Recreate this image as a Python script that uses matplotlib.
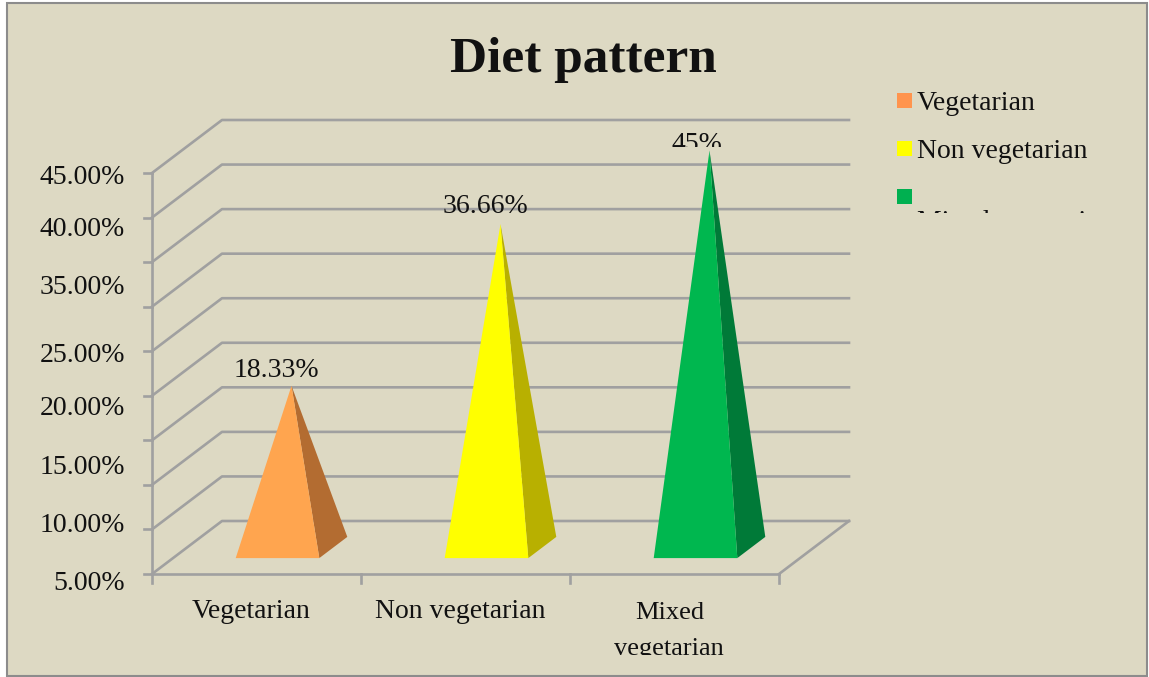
import matplotlib
matplotlib.use('Agg')
import matplotlib.pyplot as plt
from matplotlib.patches import Polygon, Rectangle
from matplotlib.transforms import Bbox

W, H = 1149, 677

categories = ['Vegetarian', 'Non vegetarian', 'Mixed\nvegetarian']
legend_labels = ['Vegetarian', 'Non vegetarian', 'Mixed vegetarian']
values = [18.33, 36.66, 45.0]
value_labels = ['18.33%', '36.66%', '45%']
y_ticks = [5, 10, 15, 20, 25, 30, 35, 40, 45, 50]
y_labels = ['5.00%', '10.00%', '15.00%', '20.00%', '25.00%', '35.00%', '40.00%', '45.00%']
y_label_px = [583, 525, 467, 409, 356, 288, 230, 178]  # squeezed labels, they do not sit on the ticks

front_colors = ['#FFA54F', '#FFFF00', '#00B74F']
side_colors = ['#B36C31', '#B8B000', '#007A38']
legend_colors = ['#FF944D', '#FFFF00', '#00B050']

bg = '#DDD9C3'
grid_c = '#A0A0A0'
grid_lw = 1.9
font = ['Liberation Serif', 'DejaVu Serif']
fs = 20

plt.rcParams['font.family'] = font

fig = plt.figure(figsize=(W / 100, H / 100), dpi=100, facecolor='white')
fig.patches.append(Rectangle((7 / W, 1 - 676 / H), 1140 / W, 673 / H, transform=fig.transFigure,
                             facecolor=bg, edgecolor='#8C8C8C', linewidth=1.5, zorder=-5))

# front wall of the 3D box, x in categories and y in axis units
ax = fig.add_axes([152 / W, 1 - 574 / H, 627 / W, 401 / H])
ax.set_xlim(0, 3)
ax.set_ylim(5, 50)
ax.axis('off')

depth_x = 70 / 627 * 3  # how far the back wall is shifted
depth_y = 53 / 401 * 45
height_scale = 0.99


def project(x, y, d):  # d goes from 0 at front wall to 1 at back wall
    return x + d * depth_x, y + d * depth_y


for v in y_ticks:
    xs, ys = zip(project(0, v, 0), project(0, v, 1), project(3, v, 1))
    ax.plot(xs, ys, color=grid_c, lw=grid_lw, clip_on=False, zorder=1)
    ax.plot([-8 / 209, 0], [v, v], color=grid_c, lw=grid_lw, clip_on=False, zorder=1)

ax.plot([0, 0], [5, 50], color=grid_c, lw=grid_lw, clip_on=False, zorder=1)
ax.plot([0, 3], [5, 5], color=grid_c, lw=grid_lw, clip_on=False, zorder=1)
xs, ys = zip(project(3, 5, 0), project(3, 5, 1))
ax.plot(xs, ys, color=grid_c, lw=grid_lw, clip_on=False, zorder=1)
for i in range(4):
    ax.plot([i, i], [5, 5 - 9 / 8.91], color=grid_c, lw=grid_lw, clip_on=False, zorder=1)

half = 0.2  # half of base width, in categories
label_off = [(-15, 15), (-15, 18), (-13, 6)]
for i, val in enumerate(values):
    cx = i + 0.5
    fl = project(cx - half, 5, 0.3)
    fr = project(cx + half, 5, 0.3)
    br = project(cx + half, 5, 0.7)
    apex = project(cx, 5 + val * height_scale, 0.5)
    ax.add_patch(Polygon([fr, br, apex], closed=True, facecolor=side_colors[i], edgecolor='none',
                         clip_on=False, zorder=2))
    ax.add_patch(Polygon([fl, fr, apex], closed=True, facecolor=front_colors[i], edgecolor='none',
                         clip_on=False, zorder=3))
    t = ax.annotate(value_labels[i], xy=apex, xytext=(label_off[i][0] * 0.72, label_off[i][1] * 0.72),
                    textcoords='offset points', ha='center', va='center', fontsize=fs, color='#111111',
                    zorder=4, annotation_clip=False)
    if i == 2:  # label is cut off by its own box in the original
        t.set_clip_box(Bbox([[0, H - 147], [W, H]]))
        t.set_clip_on(True)


def px_text(x, y, s, clip_bottom=None, **kw):
    t = fig.text(x / W, 1 - y / H, s, color='#111111', va='center', **kw)
    if clip_bottom is not None:
        t.set_clip_box(Bbox([[0, H - clip_bottom], [W, H]]))
        t.set_clip_on(True)
    return t


for lab, py in zip(y_labels, y_label_px):
    px_text(125, py, lab, fontsize=fs, ha='right')

px_text(251, 612, categories[0], fontsize=fs, ha='center')
px_text(460, 612, categories[1], fontsize=fs, ha='center')
first, second = categories[2].split('\n')
px_text(670, 613, first, fontsize=19, ha='center')
px_text(669, 649, second, clip_bottom=655, fontsize=19, ha='center')

px_text(583, 60, 'Diet pattern', fontsize=37, fontweight='bold', ha='center')

legend_y = [101, 149, 197]
for lab, col, py in zip(legend_labels, legend_colors, legend_y):
    fig.patches.append(Rectangle((897 / W, 1 - (py + 7) / H), 15 / W, 15 / H, transform=fig.transFigure,
                                 facecolor=col, edgecolor='none'))
px_text(917, 103, legend_labels[0], fontsize=fs, ha='left')
px_text(917, 151, legend_labels[1], fontsize=fs, ha='left')
px_text(917, 222, legend_labels[2], clip_bottom=213, fontsize=fs, ha='left')

fig.savefig('out.png', dpi=100, facecolor='white')
